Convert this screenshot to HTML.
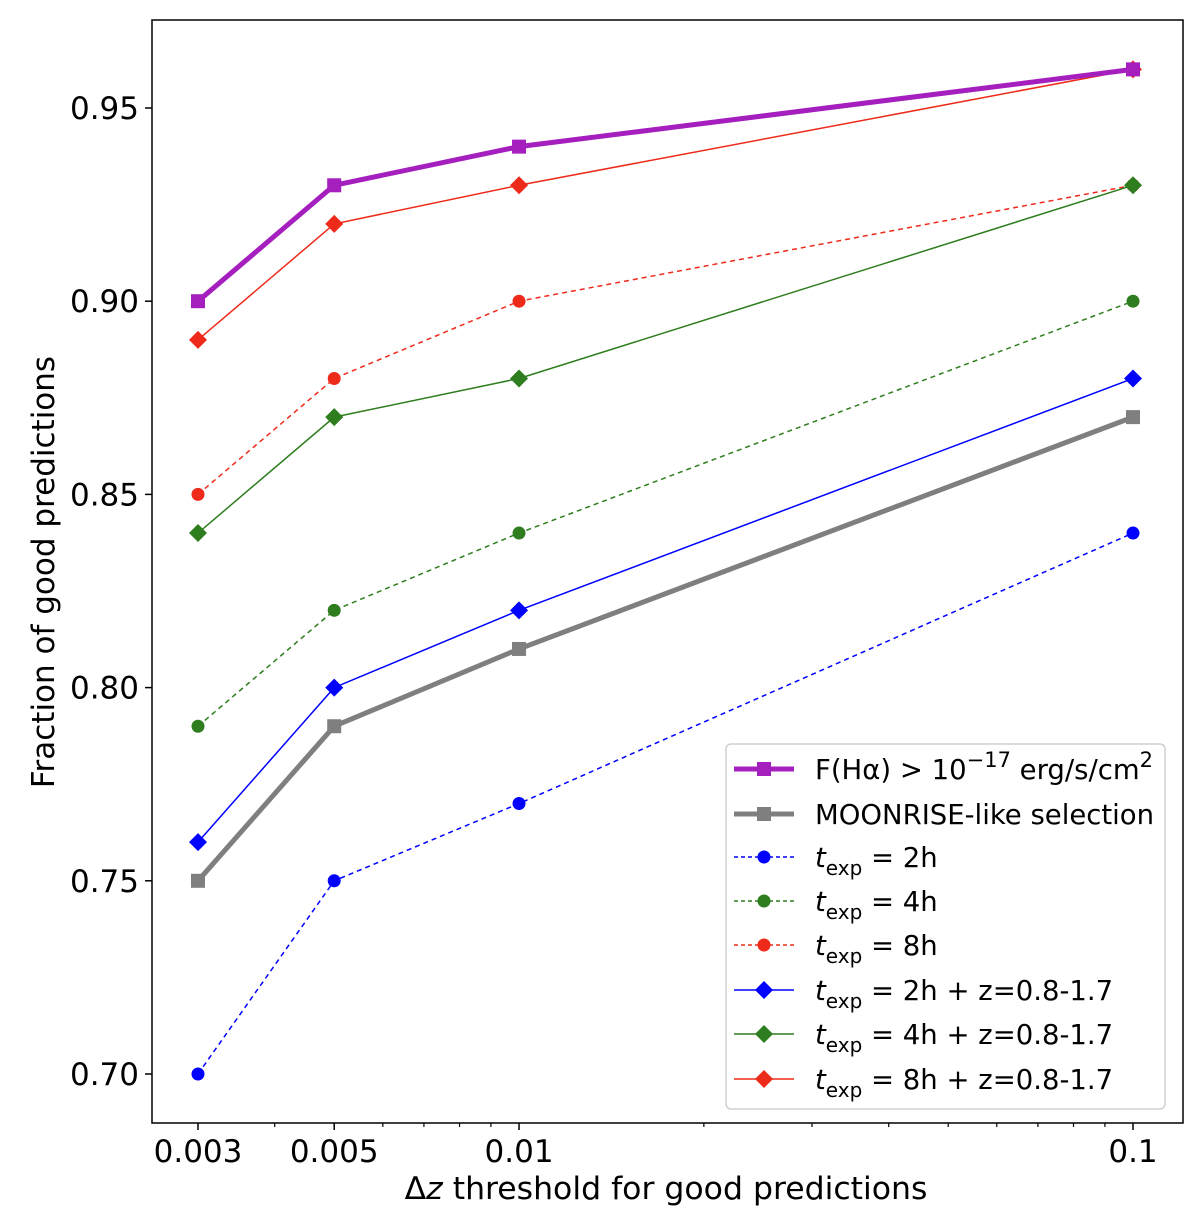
<!DOCTYPE html>
<html><head><meta charset="utf-8"><style>
body{margin:0;background:#fff;width:1200px;height:1221px;overflow:hidden}
svg text{font-family:"DejaVu Sans","Liberation Sans",sans-serif;fill:#000}
</style></head><body>
<svg id="chart" width="1200" height="1221" xmlns="http://www.w3.org/2000/svg"></svg>
<script>
const xValues=[0.003,0.005,0.01,0.1];
const xTickLabels=["0.003","0.005","0.01","0.1"];
const yTicks=[0.70,0.75,0.80,0.85,0.90,0.95];
const yTickLabels=["0.70","0.75","0.80","0.85","0.90","0.95"];
const halpha=[0.90,0.93,0.94,0.96];
const moonrise=[0.75,0.79,0.81,0.87];
const t2=[0.70,0.75,0.77,0.84];
const t4=[0.79,0.82,0.84,0.90];
const t8=[0.85,0.88,0.90,0.93];
const t2z=[0.76,0.80,0.82,0.88];
const t4z=[0.84,0.87,0.88,0.93];
const t8z=[0.89,0.92,0.93,0.96];

const NS="http://www.w3.org/2000/svg";
const svg=document.getElementById('chart');
const L=152,R=1183,T=20,B=1123;
const X=v=>198+(Math.log10(v)-Math.log10(0.003))*(935/Math.log10(0.1/0.003));
const Y=v=>108+(0.95-v)*3864;
function mk(tag,a,parent){const e=document.createElementNS(NS,tag);for(const k in a)e.setAttribute(k,a[k]);(parent||svg).appendChild(e);return e;}

const series=[
 {d:t2,c:"#0000ff",w:1.5,dash:"5,4",m:"circle",name:"series-t2h"},
 {d:t4,c:"#2e7d1e",w:1.5,dash:"5,4",m:"circle",name:"series-t4h"},
 {d:t8,c:"#ee2a1a",w:1.5,dash:"5,4",m:"circle",name:"series-t8h"},
 {d:t2z,c:"#0000ff",w:1.5,dash:"",m:"diamond",name:"series-t2h-z"},
 {d:t4z,c:"#2e7d1e",w:1.5,dash:"",m:"diamond",name:"series-t4h-z"},
 {d:moonrise,c:"#7f7f7f",w:5,dash:"",m:"square",name:"series-moonrise"},
 {d:t8z,c:"#ee2a1a",w:1.5,dash:"",m:"diamond",name:"series-t8h-z"},
 {d:halpha,c:"#a51fbf",w:5,dash:"",m:"square",name:"series-halpha"}
];
function marker(g,m,x,y,c){
 if(m=="circle")return mk('circle',{cx:x,cy:y,r:6.5,fill:c},g);
 if(m=="square")return mk('rect',{x:x-7,y:y-7,width:14,height:14,fill:c},g);
 return mk('polygon',{points:`${x},${y-9} ${x+9},${y} ${x},${y+9} ${x-9},${y}`,fill:c},g);
}
series.forEach(s=>{
 const g=mk('g',{});
 
 
 const pts=s.d.map((v,i)=>X(xValues[i])+","+Y(v)).join(" ");
 mk('polyline',{points:pts,fill:"none",stroke:s.c,"stroke-width":s.w,"stroke-dasharray":s.dash},g);
 s.d.forEach((v,i)=>{const p=marker(g,s.m,X(xValues[i]),Y(v),s.c);
  
  });
});
const fr=mk('rect',{x:L,y:T,width:R-L,height:B-T,fill:"none",stroke:"#000","stroke-width":1.5});


yTicks.forEach((v,i)=>{
 mk('line',{x1:L-7,x2:L,y1:Y(v),y2:Y(v),stroke:"#000","stroke-width":1.5});
 const t=mk('text',{x:L-13,y:Y(v)+11,"text-anchor":"end","font-size":31});
 t.textContent=yTickLabels[i];
 
 
});
xValues.forEach((v,i)=>{
 mk('line',{x1:X(v),x2:X(v),y1:B,y2:B+7,stroke:"#000","stroke-width":1.5});
 const t=mk('text',{x:X(v),y:B+39,"text-anchor":"middle","font-size":31});
 t.textContent=xTickLabels[i];
 
 
});
[0.004,0.006,0.007,0.008,0.009,0.02,0.03,0.04,0.05,0.06,0.07,0.08,0.09].forEach(v=>{
 mk('line',{x1:X(v),x2:X(v),y1:B,y2:B+4,stroke:"#000","stroke-width":1.2});
});
const xt=mk('text',{x:666,y:1199,"text-anchor":"middle","font-size":31.5});
xt.innerHTML='Δ<tspan font-style="italic">z</tspan> threshold for good predictions';


const yt=mk('text',{x:54,y:572,"text-anchor":"middle","font-size":31,transform:"rotate(-90 54 572)"});
yt.textContent='Fraction of good predictions';


const lg=mk('g',{});


mk('rect',{x:726,y:744,width:439,height:365,rx:5,fill:"#fff",stroke:"#d0d0d0","stroke-width":1.5},lg);
const entries=[
 {c:"#a51fbf",w:5,dash:"",m:"square",html:'F(Hα) &gt; 10<tspan dy="-12" font-size="21">−17</tspan><tspan dy="12"> erg/s/cm</tspan><tspan dy="-12" font-size="21">2</tspan>'},
 {c:"#7f7f7f",w:5,dash:"",m:"square",html:'MOONRISE-like selection'},
 {c:"#0000ff",w:1.5,dash:"4,3",m:"circle",h:'2h'},
 {c:"#2e7d1e",w:1.5,dash:"4,3",m:"circle",h:'4h'},
 {c:"#ee2a1a",w:1.5,dash:"4,3",m:"circle",h:'8h'},
 {c:"#0000ff",w:1.5,dash:"",m:"diamond",h:'2h + z=0.8-1.7'},
 {c:"#2e7d1e",w:1.5,dash:"",m:"diamond",h:'4h + z=0.8-1.7'},
 {c:"#ee2a1a",w:1.5,dash:"",m:"diamond",h:'8h + z=0.8-1.7'}
];
const rows=[769,814,857,901,945,990,1034,1079];
entries.forEach((e,i)=>{
 const y=rows[i];
 const g=mk('g',{},lg);
 
 
 mk('line',{x1:734,x2:794,y1:y,y2:y,stroke:e.c,"stroke-width":e.w,"stroke-dasharray":e.dash},g);
 marker(g,e.m,764,y,e.c);
 const t=mk('text',{x:815,y:y+10,"font-size":27.5},g);
 t.innerHTML=e.html||('<tspan font-style="italic">t</tspan><tspan dy="8" font-size="20">exp</tspan><tspan dy="-8"> = '+e.h+'</tspan>');
});
</script>
</body></html>
